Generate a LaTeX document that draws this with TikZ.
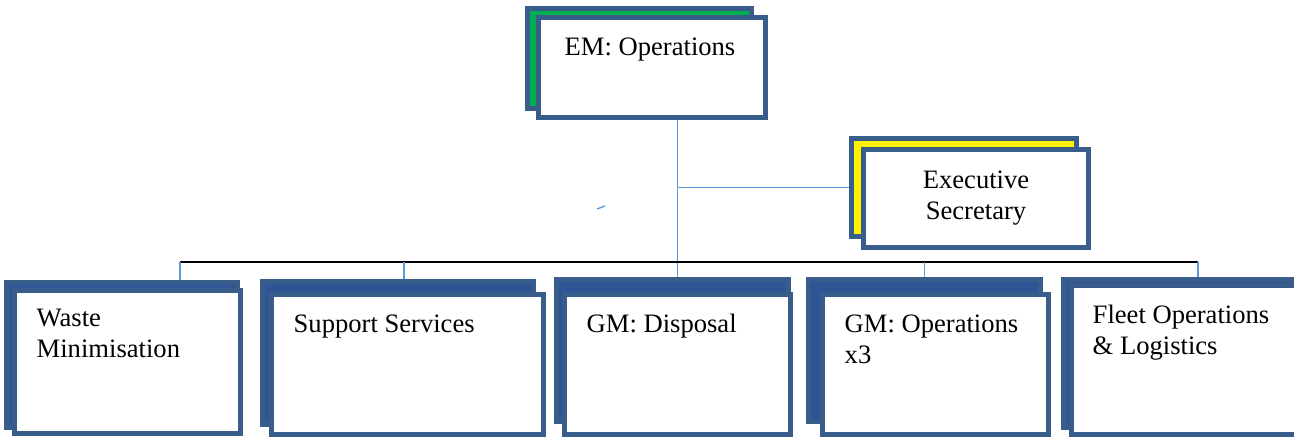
\documentclass[tikz,border=0pt]{standalone}
\usepackage{fontspec}
\setmainfont{Liberation Serif}
\usetikzlibrary{backgrounds}

\definecolor{boxline}{RGB}{56,93,138}
\definecolor{boxfill}{RGB}{47,85,151}
\definecolor{linkblue}{RGB}{91,155,213}
\definecolor{headgreen}{RGB}{0,176,80}

\begin{document}
\begin{tikzpicture}[
x=1pt, y=-1pt,
backbox/.style={draw=boxline, line width=5pt, fill=boxfill, inner sep=0pt},
frontbox/.style={draw=boxline, line width=5pt, fill=white, inner sep=0pt},
lbl/.style={font=\fontsize{26.6}{31}\selectfont, inner sep=0pt},
link/.style={draw=linkblue, line width=1.4pt},
bar/.style={draw=black, line width=2pt}
]
\useasboundingbox (0,0) rectangle (1294,438);
\clip (0,0) rectangle (1294,438);

\node[backbox, fill=headgreen, minimum width=224pt, minimum height=100pt] (emback) at (639.5,58.5) {};
\node[frontbox, minimum width=227pt, minimum height=100pt] (emfront) at (652,67.5) {};
\node[lbl, anchor=base] (emtext) at ([xshift=-2pt,yshift=-41pt]emfront.north) {EM: Operations};

\node[backbox, fill=yellow, minimum width=225pt, minimum height=98pt] (execback) at (964,187.5) {};
\node[frontbox, minimum width=225pt, minimum height=98pt] (execfront) at (976,198.5) {};
\node[lbl, anchor=base, align=center] (exectext) at ([yshift=-72.5pt]execfront.north) {Executive\\Secretary};

\node[backbox, minimum width=231pt, minimum height=145pt] (wmback) at (122,355) {};
\node[frontbox, minimum width=226pt, minimum height=143pt] (wmfront) at (127.5,362) {};
\node[lbl, anchor=base west, align=left] (wmtext) at ([xshift=24.5pt,yshift=-69.5pt]wmfront.north west) {Waste\\Minimisation};

\node[backbox, minimum width=271pt, minimum height=143pt] (supback) at (398,353) {};
\node[frontbox, minimum width=272pt, minimum height=140pt] (supfront) at (407.5,364.5) {};
\node[lbl, anchor=base west] (suptext) at ([xshift=24.5pt,yshift=-41pt]supfront.north west) {Support Services};

\node[backbox, minimum width=232pt, minimum height=142pt] (dispback) at (672.5,350.5) {};
\node[frontbox, minimum width=226pt, minimum height=140pt] (dispfront) at (677.5,364.5) {};
\node[lbl, anchor=base west] (disptext) at ([xshift=24.5pt,yshift=-41pt]dispfront.north west) {GM: Disposal};

\node[backbox, minimum width=232pt, minimum height=142pt] (gmback) at (924.5,350.5) {};
\node[frontbox, minimum width=226pt, minimum height=140pt] (gmfront) at (935.5,364.5) {};
\node[lbl, anchor=base west, align=left] (gmtext) at ([xshift=24.5pt,yshift=-72pt]gmfront.north west) {GM: Operations\\x3};

\node[backbox, minimum width=254pt, minimum height=148pt] (fleetback) at (1190.5,353.5) {};
\node[frontbox, minimum width=246pt, minimum height=149pt] (fleetfront) at (1194.5,360) {};
\node[lbl, anchor=base west, align=left] (fleettext) at ([xshift=23.5pt,yshift=-72pt]fleetfront.north west) {Fleet Operations\\\& Logistics};

\begin{scope}[on background layer]
\coordinate (barL) at (180,262);
\coordinate (barR) at (1198,262);
\coordinate (supdrop) at ([xshift=6pt]supback.north);
\draw[link] (emfront.south -| dispfront.north) -- (dispfront.north |- dispback.north);
\draw[link] (dispfront.north |- execback.west) -- (execback.west);
\draw[bar] (barL) -- (barR);
\draw[link] (barL) -- (barL |- wmback.north);
\draw[link] (supdrop |- barL) -- (supdrop);
\draw[link] (gmback.north |- barL) -- (gmback.north);
\draw[link] (barR) -- (barR |- fleetback.north);
\draw[link] (597,209) -- (605,206);
\end{scope}
\end{tikzpicture}
\end{document}
